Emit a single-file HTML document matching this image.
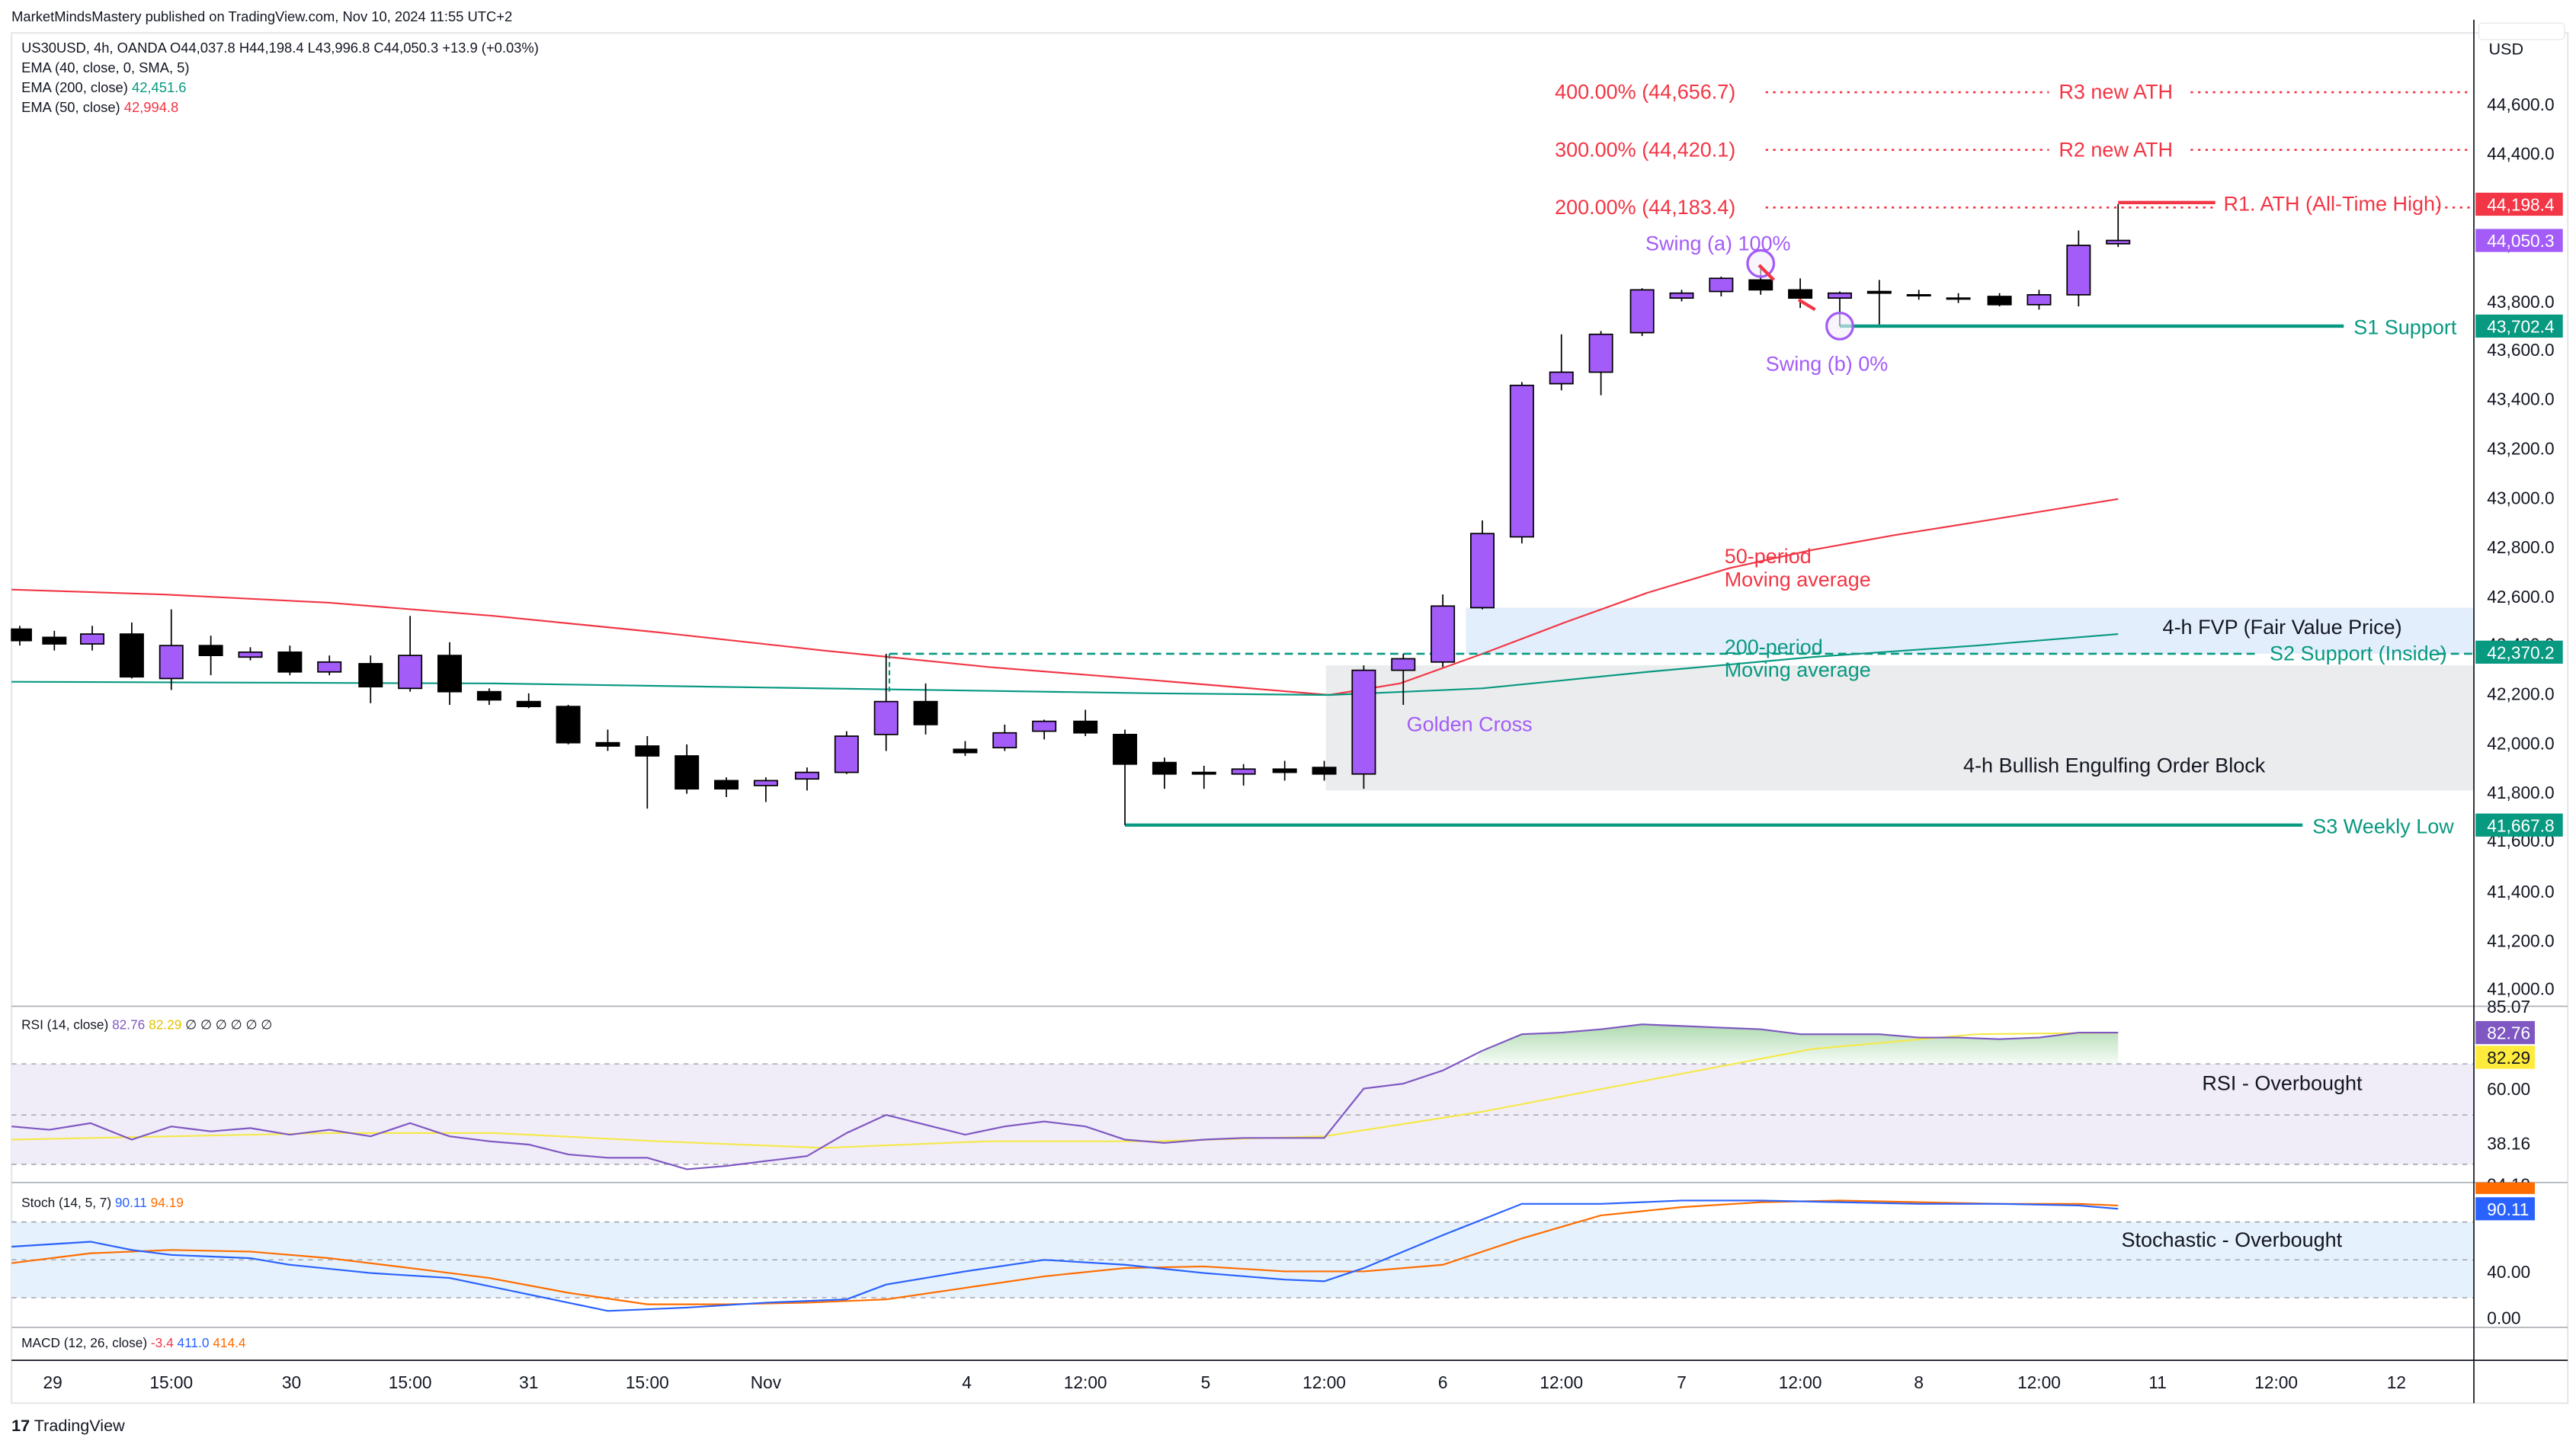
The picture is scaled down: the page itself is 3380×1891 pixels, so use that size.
<!DOCTYPE html>
<html><head><meta charset="utf-8"><style>
html,body{margin:0;padding:0;background:#fff;}
svg{display:block;font-family:"Liberation Sans","DejaVu Sans",sans-serif;}
</style></head><body>
<svg width="3380" height="1891" viewBox="0 0 1564 875" preserveAspectRatio="none" xmlns="http://www.w3.org/2000/svg">
<rect width="1564" height="875" fill="#fff"/>
<text x="7" y="13" font-size="8.5" fill="#131722">MarketMindsMastery published on TradingView.com, Nov 10, 2024 11:55 UTC+2</text>
<rect x="7" y="20" width="1552" height="832" fill="none" stroke="#e6e7ea" stroke-width="1"/>

<!-- zones -->
<rect x="890" y="369" width="612" height="28" fill="#e3eefc"/>
<rect x="805" y="404" width="697" height="76" fill="#ebecee"/>
<text x="1313" y="385" font-size="12.5" fill="#131722">4-h FVP (Fair Value Price)</text>
<text x="1192" y="469" font-size="12.5" fill="#131722">4-h Bullish Engulfing Order Block</text>

<!-- fib lines -->
<g stroke="#f23645" stroke-width="1.2" stroke-dasharray="1.5,3">
<line x1="1072" y1="56" x2="1244" y2="56"/><line x1="1330" y1="56" x2="1500" y2="56"/>
<line x1="1072" y1="91" x2="1244" y2="91"/><line x1="1330" y1="91" x2="1500" y2="91"/>
<line x1="1072" y1="126" x2="1345" y2="126"/><line x1="1480" y1="126" x2="1500" y2="126"/>
</g>
<g font-size="12.5" fill="#f23645">
<text x="944" y="60">400.00% (44,656.7)</text><text x="1250" y="60">R3 new ATH</text>
<text x="944" y="95">300.00% (44,420.1)</text><text x="1250" y="95">R2 new ATH</text>
<text x="944" y="130">200.00% (44,183.4)</text><text x="1350" y="128">R1. ATH (All-Time High)</text>
<text x="1047" y="342">50-period</text><text x="1047" y="356">Moving average</text>
</g>
<line x1="1286" y1="123" x2="1345" y2="123" stroke="#f23645" stroke-width="2"/>

<!-- MAs -->
<polyline fill="none" stroke="#f23645" stroke-width="1" points="7,358 100,361 200,366 300,374 400,384 500,395 600,405 700,413 807,422 850,415 900,397 950,378 1000,360 1050,345 1100,334 1150,325 1200,317 1286,303"/>
<polyline fill="none" stroke="#089981" stroke-width="1" points="7,414 300,415 500,418 700,421 807,422 900,418 1000,408 1100,399 1200,392 1286,385"/>

<!-- supports -->
<line x1="540" y1="397" x2="1372" y2="397" stroke="#089981" stroke-width="1.2" stroke-dasharray="5,3"/>
<line x1="1480" y1="397" x2="1502" y2="397" stroke="#089981" stroke-width="1.2" stroke-dasharray="5,3"/>
<line x1="540" y1="397" x2="540" y2="420" stroke="#089981" stroke-width="1" stroke-dasharray="3,2"/>
<line x1="1117" y1="198" x2="1423" y2="198" stroke="#089981" stroke-width="2"/>
<line x1="683" y1="501" x2="1398" y2="501" stroke="#089981" stroke-width="2"/>
<g font-size="12.5" fill="#089981">
<text x="1429" y="203">S1 Support</text>
<text x="1378" y="401">S2 Support (Inside)</text>
<text x="1404" y="506">S3 Weekly Low</text>
<text x="1047" y="397">200-period</text><text x="1047" y="411">Moving average</text>
</g>
<g font-size="12.5" fill="#a35cf7">
<text x="854" y="444">Golden Cross</text>
<text x="999" y="152">Swing (a) 100%</text>
<text x="1072" y="225">Swing (b) 0%</text>
</g>

<!-- candles -->
<g stroke="#000" stroke-width="0.8" id="c">
<line x1="12" y1="380" x2="12" y2="392"/><rect x="7" y="382" width="12" height="7" fill="#000"/>
<line x1="33" y1="383" x2="33" y2="395"/><rect x="26" y="387" width="14" height="4" fill="#000"/>
<line x1="56" y1="380" x2="56" y2="395"/><rect x="49" y="385" width="14" height="6" fill="#a35cf7"/>
<line x1="80" y1="378" x2="80" y2="412"/><rect x="73" y="385" width="14" height="26" fill="#000"/>
<line x1="104" y1="370" x2="104" y2="419"/><rect x="97" y="392" width="14" height="20" fill="#a35cf7"/>
<line x1="128" y1="386" x2="128" y2="410"/><rect x="121" y="392" width="14" height="6" fill="#000"/>
<line x1="152" y1="393" x2="152" y2="401"/><rect x="145" y="396" width="14" height="3" fill="#a35cf7"/>
<line x1="176" y1="392" x2="176" y2="410"/><rect x="169" y="396" width="14" height="12" fill="#000"/>
<line x1="200" y1="398" x2="200" y2="410"/><rect x="193" y="402" width="14" height="6" fill="#a35cf7"/>
<line x1="225" y1="398" x2="225" y2="427"/><rect x="218" y="403" width="14" height="14" fill="#000"/>
<line x1="249" y1="374" x2="249" y2="420"/><rect x="242" y="398" width="14" height="20" fill="#a35cf7"/>
<line x1="273" y1="390" x2="273" y2="428"/><rect x="266" y="398" width="14" height="22" fill="#000"/>
<line x1="297" y1="418" x2="297" y2="428"/><rect x="290" y="420" width="14" height="5" fill="#000"/>
<line x1="321" y1="421" x2="321" y2="430"/><rect x="314" y="426" width="14" height="3" fill="#000"/>
<line x1="345" y1="428" x2="345" y2="452"/><rect x="338" y="429" width="14" height="22" fill="#000"/>
<line x1="369" y1="443" x2="369" y2="456"/><rect x="362" y="451" width="14" height="2" fill="#000"/>
<line x1="393" y1="447" x2="393" y2="491"/><rect x="386" y="453" width="14" height="6" fill="#000"/>
<line x1="417" y1="452" x2="417" y2="482"/><rect x="410" y="459" width="14" height="20" fill="#000"/>
<line x1="441" y1="472" x2="441" y2="484"/><rect x="434" y="474" width="14" height="5" fill="#000"/>
<line x1="465" y1="472" x2="465" y2="487"/><rect x="458" y="474" width="14" height="3" fill="#a35cf7"/>
<line x1="490" y1="466" x2="490" y2="480"/><rect x="483" y="469" width="14" height="4" fill="#a35cf7"/>
<line x1="514" y1="444" x2="514" y2="470"/><rect x="507" y="447" width="14" height="22" fill="#a35cf7"/>
<line x1="538" y1="397" x2="538" y2="456"/><rect x="531" y="426" width="14" height="20" fill="#a35cf7"/>
<line x1="562" y1="415" x2="562" y2="446"/><rect x="555" y="426" width="14" height="14" fill="#000"/>
<line x1="586" y1="450" x2="586" y2="459"/><rect x="579" y="455" width="14" height="2" fill="#000"/>
<line x1="610" y1="440" x2="610" y2="456"/><rect x="603" y="445" width="14" height="9" fill="#a35cf7"/>
<line x1="634" y1="437" x2="634" y2="449"/><rect x="627" y="438" width="14" height="6" fill="#a35cf7"/>
<line x1="659" y1="431" x2="659" y2="447"/><rect x="652" y="438" width="14" height="7" fill="#000"/>
<line x1="683" y1="443" x2="683" y2="501"/><rect x="676" y="446" width="14" height="18" fill="#000"/>
<line x1="707" y1="460" x2="707" y2="479"/><rect x="700" y="463" width="14" height="7" fill="#000"/>
<line x1="731" y1="465" x2="731" y2="479"/><rect x="724" y="469" width="14" height="1" fill="#000"/>
<line x1="755" y1="464" x2="755" y2="477"/><rect x="748" y="467" width="14" height="3" fill="#a35cf7"/>
<line x1="780" y1="462" x2="780" y2="474"/><rect x="773" y="467" width="14" height="2" fill="#000"/>
<line x1="804" y1="462" x2="804" y2="474"/><rect x="797" y="466" width="14" height="4" fill="#000"/>
<line x1="828" y1="404" x2="828" y2="479"/><rect x="821" y="407" width="14" height="63" fill="#a35cf7"/>
<line x1="852" y1="397" x2="852" y2="428"/><rect x="845" y="400" width="14" height="7" fill="#a35cf7"/>
<line x1="876" y1="361" x2="876" y2="405"/><rect x="869" y="368" width="14" height="34" fill="#a35cf7"/>
<line x1="900" y1="316" x2="900" y2="370"/><rect x="893" y="324" width="14" height="45" fill="#a35cf7"/>
<line x1="924" y1="232" x2="924" y2="330"/><rect x="917" y="234" width="14" height="92" fill="#a35cf7"/>
<line x1="948" y1="203" x2="948" y2="237"/><rect x="941" y="226" width="14" height="7" fill="#a35cf7"/>
<line x1="972" y1="201" x2="972" y2="240"/><rect x="965" y="203" width="14" height="23" fill="#a35cf7"/>
<line x1="997" y1="175" x2="997" y2="204"/><rect x="990" y="176" width="14" height="26" fill="#a35cf7"/>
<line x1="1021" y1="176" x2="1021" y2="183"/><rect x="1014" y="178" width="14" height="3" fill="#a35cf7"/>
<line x1="1045" y1="168" x2="1045" y2="180"/><rect x="1038" y="169" width="14" height="8" fill="#a35cf7"/>
<line x1="1069" y1="162" x2="1069" y2="179"/><rect x="1062" y="170" width="14" height="6" fill="#000"/>
<line x1="1093" y1="169" x2="1093" y2="187"/><rect x="1086" y="176" width="14" height="5" fill="#000"/>
<line x1="1117" y1="177" x2="1117" y2="198"/><rect x="1110" y="178" width="14" height="3" fill="#a35cf7"/>
<line x1="1141" y1="170" x2="1141" y2="197"/><rect x="1134" y="177" width="14" height="1" fill="#000"/>
<line x1="1165" y1="176" x2="1165" y2="182"/><rect x="1158" y="179" width="14" height="0.6" fill="#000"/>
<line x1="1189" y1="178" x2="1189" y2="184"/><rect x="1182" y="181" width="14" height="0.6" fill="#000"/>
<line x1="1214" y1="178" x2="1214" y2="186"/><rect x="1207" y="180" width="14" height="5" fill="#000"/>
<line x1="1238" y1="176" x2="1238" y2="188"/><rect x="1231" y="179" width="14" height="6" fill="#a35cf7"/>
<line x1="1262" y1="140" x2="1262" y2="186"/><rect x="1255" y="149" width="14" height="30" fill="#a35cf7"/>
<line x1="1286" y1="124" x2="1286" y2="150"/><rect x="1279" y="146" width="14" height="2" fill="#a35cf7"/>
</g>
<circle cx="1069" cy="160" r="8" fill="#f3eeff" fill-opacity="0.6" stroke="#a35cf7" stroke-width="1.5"/>
<circle cx="1117" cy="198" r="8" fill="#f3eeff" fill-opacity="0.6" stroke="#a35cf7" stroke-width="1.5"/>
<line x1="1068" y1="161" x2="1077" y2="170" stroke="#f23645" stroke-width="2"/>
<line x1="1092" y1="182" x2="1102" y2="188" stroke="#f23645" stroke-width="2"/>

<!-- header legend -->
<g font-size="8.5" fill="#131722">
<text x="13" y="32">US30USD, 4h, OANDA  O44,037.8  H44,198.4  L43,996.8  C44,050.3  +13.9 (+0.03%)</text>
<text x="13" y="44">EMA (40, close, 0, SMA, 5)</text>
<text x="13" y="56">EMA (200, close) <tspan fill="#089981">42,451.6</tspan></text>
<text x="13" y="68">EMA (50, close) <tspan fill="#f23645">42,994.8</tspan></text>
</g>

<!-- pane separators -->
<line x1="7" y1="611" x2="1559" y2="611" stroke="#b0b3ba" stroke-width="0.8"/>
<line x1="7" y1="718" x2="1559" y2="718" stroke="#b0b3ba" stroke-width="0.8"/>
<line x1="7" y1="806" x2="1559" y2="806" stroke="#b0b3ba" stroke-width="0.8"/>
<line x1="7" y1="826" x2="1559" y2="826" stroke="#131722" stroke-width="0.8"/>

<!-- RSI -->
<rect x="7" y="646" width="1495" height="61" fill="#f0ecf8"/>
<g stroke="#9598a1" stroke-width="0.6" stroke-dasharray="3,3">
<line x1="7" y1="646" x2="1502" y2="646"/><line x1="7" y1="677" x2="1502" y2="677"/><line x1="7" y1="707" x2="1502" y2="707"/>
</g>
<defs><linearGradient id="g" x1="0" y1="0" x2="0" y2="1"><stop offset="0" stop-color="#4caf50" stop-opacity="0.45"/><stop offset="1" stop-color="#4caf50" stop-opacity="0.05"/></linearGradient></defs>
<polygon fill="url(#g)" points="893,646 900,638 924,628 948,627 972,625 997,622 1021,623 1045,624 1069,625 1093,628 1117,628 1141,628 1165,630 1189,630 1214,631 1238,630 1262,627 1286,627 1286,646"/>
<polyline fill="none" stroke="#f5e94a" stroke-width="1" points="7,692 200,688 300,688 400,693 500,697 600,693 700,693 804,690 900,675 1000,656 1100,637 1200,628 1286,627"/>
<polyline fill="none" stroke="#7e57c2" stroke-width="1" points="7,684 30,686 55,682 80,692 104,684 128,687 152,685 176,689 200,686 225,690 249,682 273,690 297,693 321,695 345,701 369,703 393,703 417,710 441,708 465,705 490,702 514,688 538,677 562,683 586,689 610,684 634,681 659,684 683,692 707,694 731,692 755,691 780,691 804,691 828,661 852,658 876,650 900,638 924,628 948,627 972,625 997,622 1021,623 1045,624 1069,625 1093,628 1117,628 1141,628 1165,630 1189,630 1214,631 1238,630 1262,627 1286,627"/>
<text x="13" y="625" font-size="8" fill="#131722">RSI (14, close) <tspan fill="#7e57c2">82.76</tspan> <tspan fill="#e0c200">82.29</tspan> ∅ ∅ ∅ ∅ ∅ ∅</text>
<text x="1337" y="662" font-size="12.5" fill="#131722">RSI -  Overbought</text>

<!-- Stoch -->
<rect x="7" y="742" width="1495" height="46" fill="#e5f1fc"/>
<g stroke="#9598a1" stroke-width="0.6" stroke-dasharray="3,3">
<line x1="7" y1="742" x2="1502" y2="742"/><line x1="7" y1="765" x2="1502" y2="765"/><line x1="7" y1="788" x2="1502" y2="788"/>
</g>
<polyline fill="none" stroke="#ff6d00" stroke-width="1" points="7,767 55,761 104,759 152,760 200,764 249,770 297,776 345,785 393,792 441,792 490,791 538,789 586,782 634,775 683,770 731,769 780,772 828,772 876,768 924,752 972,738 1021,733 1069,730 1117,729 1165,730 1214,731 1262,731 1286,732"/>
<polyline fill="none" stroke="#2962ff" stroke-width="1" points="7,757 55,754 80,759 104,762 152,764 176,768 225,773 273,776 321,786 369,796 417,794 465,791 514,789 538,780 586,772 634,765 683,768 731,773 780,777 804,778 828,770 876,750 924,731 972,731 1021,729 1069,729 1117,730 1165,731 1214,731 1262,732 1286,734"/>
<text x="13" y="733" font-size="8" fill="#131722">Stoch (14, 5, 7) <tspan fill="#2962ff">90.11</tspan> <tspan fill="#ff6d00">94.19</tspan></text>
<text x="1288" y="757" font-size="12.5" fill="#131722">Stochastic - Overbought</text>

<!-- MACD -->
<text x="13" y="818" font-size="8" fill="#131722">MACD (12, 26, close) <tspan fill="#f23645">-3.4</tspan> <tspan fill="#2962ff">411.0</tspan> <tspan fill="#ff6d00">414.4</tspan></text>

<!-- time axis -->
<g font-size="10.5" fill="#131722" text-anchor="middle">
<text x="32" y="843">29</text><text x="104" y="843">15:00</text><text x="177" y="843">30</text><text x="249" y="843">15:00</text>
<text x="321" y="843">31</text><text x="393" y="843">15:00</text><text x="465" y="843">Nov</text><text x="587" y="843">4</text>
<text x="659" y="843">12:00</text><text x="732" y="843">5</text><text x="804" y="843">12:00</text><text x="876" y="843">6</text>
<text x="948" y="843">12:00</text><text x="1021" y="843">7</text><text x="1093" y="843">12:00</text><text x="1165" y="843">8</text>
<text x="1238" y="843">12:00</text><text x="1310" y="843">11</text><text x="1382" y="843">12:00</text><text x="1455" y="843">12</text>
</g>

<!-- price axis -->
<line x1="1502" y1="12" x2="1502" y2="852" stroke="#131722" stroke-width="0.8"/>
<rect x="1505" y="14" width="52" height="10" rx="2" fill="#fff" stroke="#e6e7ea" stroke-width="0.6"/>
<text x="1511" y="33" font-size="10" fill="#131722">USD</text>
<g font-size="10.5" fill="#131722">
<text x="1510" y="67">44,600.0</text><text x="1510" y="97">44,400.0</text><text x="1510" y="152">44,000.0</text>
<text x="1510" y="187">43,800.0</text><text x="1510" y="216">43,600.0</text><text x="1510" y="246">43,400.0</text>
<text x="1510" y="276">43,200.0</text><text x="1510" y="306">43,000.0</text><text x="1510" y="336">42,800.0</text>
<text x="1510" y="366">42,600.0</text><text x="1510" y="395">42,400.0</text><text x="1510" y="425">42,200.0</text>
<text x="1510" y="455">42,000.0</text><text x="1510" y="485">41,800.0</text><text x="1510" y="514">41,600.0</text>
<text x="1510" y="545">41,400.0</text><text x="1510" y="575">41,200.0</text><text x="1510" y="604">41,000.0</text>
<text x="1510" y="615">85.07</text><text x="1510" y="665">60.00</text><text x="1510" y="698">38.16</text>
<text x="1510" y="723">94.19</text><text x="1510" y="738">80.00</text><text x="1510" y="776">40.00</text><text x="1510" y="804">0.00</text>
</g>
<g font-size="10.5" fill="#fff">
<rect x="1503" y="117" width="53" height="14" fill="#f23645"/><text x="1510" y="128">44,198.4</text>
<rect x="1503" y="139" width="53" height="14" fill="#a35cf7"/><text x="1510" y="150">44,050.3</text>
<rect x="1503" y="191" width="53" height="14" fill="#089981"/><text x="1510" y="202">43,702.4</text>
<rect x="1503" y="389" width="53" height="14" fill="#089981"/><text x="1510" y="400">42,370.2</text>
<rect x="1503" y="494" width="53" height="14" fill="#089981"/><text x="1510" y="505">41,667.8</text>
<rect x="1503" y="620" width="36" height="14" fill="#7e57c2"/><text x="1510" y="631">82.76</text>
<rect x="1503" y="635" width="36" height="14" fill="#ffeb3b"/><text x="1510" y="646" fill="#131722">82.29</text>
<rect x="1503" y="718" width="36" height="7" fill="#ff6d00"/>
<rect x="1503" y="727" width="36" height="14" fill="#2962ff"/><text x="1510" y="738">90.11</text>
</g>

<!-- logo -->
<text x="7" y="869" font-size="10" fill="#131722"><tspan font-weight="bold">17</tspan> TradingView</text>
</svg>
</body></html>
